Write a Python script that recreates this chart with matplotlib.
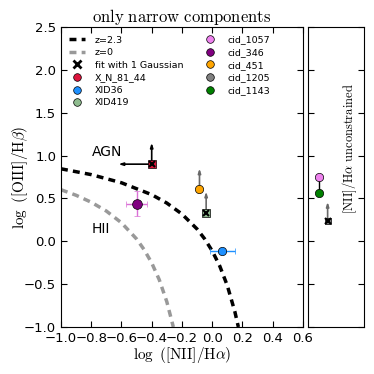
import matplotlib
matplotlib.use('Agg')
import matplotlib.pyplot as plt
import numpy as np

plt.rcParams['mathtext.fontset'] = 'cm'
plt.rcParams['font.family'] = 'DejaVu Sans'
plt.rcParams['xtick.direction'] = 'in'
plt.rcParams['ytick.direction'] = 'in'
plt.rcParams['xtick.top'] = True
plt.rcParams['ytick.right'] = True

# demarcation lines
z23_x = [-1.0, -0.8, -0.6, -0.4, -0.3, -0.2, -0.1, -0.05, 0.0, 0.05, 0.1, 0.15, 0.173]
z23_y = [0.846, 0.778, 0.683, 0.544, 0.446, 0.318, 0.143, 0.028, -0.112, -0.289, -0.517, -0.823, -1.0]
z0_x = [-1.0, -0.9, -0.8, -0.7, -0.6, -0.5, -0.45, -0.4, -0.35, -0.3, -0.257]
z0_y = [0.602, 0.537, 0.456, 0.353, 0.216, 0.027, -0.098, -0.252, -0.449, -0.706, -1.0]

# sources in the main panel
x_n81 = (-0.40, 0.90)
x_n81_left = -0.62
x_n81_up = 1.15
xid36 = (0.068, -0.11)
xid36_xerr = 0.085
xid419 = (-0.04, 0.333)
xid419_up = 0.58
cid346 = (-0.50, 0.44)
cid346_xerr = 0.07
cid346_yerr = 0.15
cid451 = (-0.084, 0.606)
cid451_up = 0.85

# sources with unconstrained [NII]/Ha (side panel, arbitrary x)
cid1057 = (0.2, 0.75)
cid1143 = (0.2, 0.56)
cid1205 = (0.35, 0.236)
cid1205_up = 0.46

fig = plt.figure(figsize=(3.74, 3.74), dpi=100)
ax = fig.add_axes([0.163, 0.1257, 0.647, 0.802])
ax2 = fig.add_axes([0.8235, 0.1257, 0.15, 0.802], sharey=ax)

h = {}
h['z=2.3'], = ax.plot(z23_x, z23_y, '--', color='k', lw=2.5, dashes=(2, 1.5))
h['z=0'], = ax.plot(z0_x, z0_y, '--', color='gray', lw=2.5, dashes=(2, 1.5), alpha=0.8)
h['fit with 1 Gaussian'], = ax.plot([], [], 'x', color='k', mew=2, ms=6)

arrow_style = '-|>,head_length=0.25,head_width=0.08'

def up_arrow(a, x, y, y2, col):
    a.annotate('', xy=(x, y2), xytext=(x, y),
               arrowprops=dict(arrowstyle=arrow_style, color=col, lw=1.2, shrinkA=0, shrinkB=0))

def proxy(col):
    line, = ax.plot([], [], 'o', color=col, mec='k', mew=0.5, ms=5.5)
    return line

# X_N_81_44
up_arrow(ax, x_n81[0], x_n81[1], x_n81_up, 'k')
ax.annotate('', xy=(x_n81_left, x_n81[1]), xytext=x_n81,
            arrowprops=dict(arrowstyle=arrow_style, color='k', lw=1.2, shrinkA=0, shrinkB=0))
ax.plot(*x_n81, 's', color='crimson', mec='k', mew=0.5, ms=6, zorder=5)
ax.plot(*x_n81, 'x', color='k', mew=1.5, ms=5, zorder=6)
h['X_N_81_44'] = proxy('crimson')

# XID36
ax.errorbar(xid36[0], xid36[1], xerr=xid36_xerr, fmt='o', color='dodgerblue',
            ecolor='dodgerblue', mec='k', mew=0.5, ms=6, capsize=2, elinewidth=1, zorder=5)
h['XID36'] = proxy('dodgerblue')

# XID419
up_arrow(ax, xid419[0], xid419[1], xid419_up, 'dimgray')
ax.plot(*xid419, 's', color='darkseagreen', mec='k', mew=0.5, ms=6, zorder=5)
ax.plot(*xid419, 'x', color='k', mew=1.5, ms=5, zorder=6)
h['XID419'] = proxy('darkseagreen')

# cid sources
h['cid_1057'] = proxy('violet')
ax.errorbar(cid346[0], cid346[1], xerr=cid346_xerr, yerr=cid346_yerr, fmt='o',
            color='purple', ecolor='orchid', mec='k', mew=0.5, ms=7, capsize=2,
            elinewidth=1, zorder=5)
h['cid_346'] = proxy('purple')
up_arrow(ax, cid451[0], cid451[1], cid451_up, 'dimgray')
ax.plot(*cid451, 'o', color='orange', mec='k', mew=0.5, ms=6, zorder=5)
h['cid_451'] = proxy('orange')
h['cid_1205'] = proxy('gray')
h['cid_1143'] = proxy('green')

ax.text(-0.795, 1.04, 'AGN', fontsize=10, va='center', ha='left')
ax.text(-0.795, 0.14, 'HII', fontsize=10, va='center', ha='left')

ax.set_xlim(-1.0, 0.6)
ax.set_ylim(-1.0, 2.5)
ax.set_xticks(np.arange(-1.0, 0.61, 0.2))
ax.set_yticks(np.arange(-1.0, 2.51, 0.5))
ax.tick_params(labelsize=9.5, length=4)
ax.set_xlabel(r'$\log\ ([\mathrm{NII}]/\mathrm{H}\alpha)$', fontsize=11, labelpad=0)
ax.set_ylabel(r'$\log\ ([\mathrm{OIII}]/\mathrm{H}\beta)$', fontsize=11, labelpad=-4)
ax.set_title(r'$\mathrm{only\ narrow\ components}$', fontsize=12, pad=2)

order = ['z=2.3', 'z=0', 'fit with 1 Gaussian', 'X_N_81_44', 'XID36', 'XID419',
         'cid_1057', 'cid_346', 'cid_451', 'cid_1205', 'cid_1143']
ax.legend([h[k] for k in order], order, loc='upper left', ncol=2, frameon=False, fontsize=6.8,
          numpoints=1, handlelength=1.6, handletextpad=1.1, labelspacing=0.38,
          columnspacing=2.0, borderaxespad=0.5)

# side panel
ax2.plot([cid1057[0], cid1143[0]], [cid1057[1], cid1143[1]], '-', color='k', lw=1)
ax2.plot(*cid1057, 'o', color='violet', mec='k', mew=0.5, ms=6, zorder=5)
ax2.plot(*cid1143, 'o', color='green', mec='k', mew=0.5, ms=6, zorder=5)
up_arrow(ax2, cid1205[0], cid1205[1], cid1205_up, 'dimgray')
ax2.plot(*cid1205, 's', color='gray', mec='k', mew=0.5, ms=5, zorder=5)
ax2.plot(*cid1205, 'x', color='k', mew=1.5, ms=5, zorder=6)
ax2.text(0.74, 1.08, r'$[\mathrm{NII}]/\mathrm{H}\alpha\ \mathrm{unconstrained}$', rotation=90,
         fontsize=9, ha='center', va='center')
ax2.set_xlim(0, 1)
ax2.set_xticks([])
ax2.tick_params(labelleft=False, length=4)

fig.savefig('out.png', dpi=100)
